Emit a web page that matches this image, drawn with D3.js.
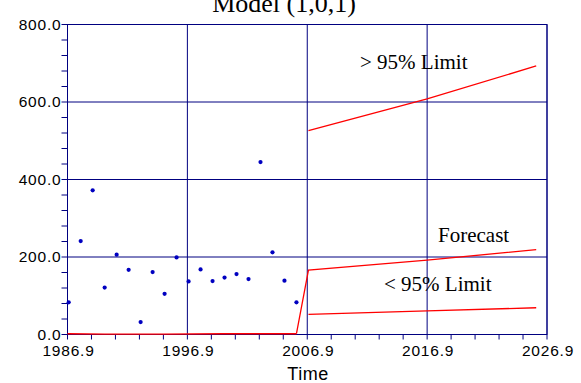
<!DOCTYPE html>
<html>
<head>
<meta charset="utf-8">
<script src="https://cdn.jsdelivr.net/npm/d3@7"></script>
<style>
  body { margin: 0; background: #fff; }
  svg { display: block; }
</style>
</head>
<body>
<svg id="chart" width="581" height="383"></svg>
<script>
// Observed series (one point per year)
let obsYears = [1987, 1988, 1989, 1990, 1991, 1992, 1993, 1994, 1995, 1996,
                1997, 1998, 1999, 2000, 2001, 2002, 2003, 2004, 2005, 2006];
let obsValues = [83, 241, 372, 121, 206, 167, 32, 161, 105, 199,
                 137, 168, 138, 147, 156, 143, 445, 212, 139, 83];

// Fitted values over the sample, then the forecast
let fitYears = [1986.9, 1987, 1990, 1995, 2000, 2006];
let fitValues = [2, 2, 1, 1, 2, 2];
let forecastYears = [2006, 2007, 2016.9, 2026];
let forecastValues = [2, 166, 192, 219];

// Confidence limits
let upperYears = [2007, 2016.9, 2026];
let upperValues = [526, 608, 693];
let lowerYears = [2007, 2016.9, 2026];
let lowerValues = [52, 61, 69];

let xMajorTicks = [1986.9, 1996.9, 2006.9, 2016.9, 2026.9];
let yMajorTicks = [0, 200, 400, 600, 800];

let svg = d3.select("#chart");
let plot = { left: 67.5, right: 547, top: 24.5, bottom: 334.5 };
let navy = "#000080";

let x = d3.scaleLinear().domain([1986.9, 2026.9]).range([plot.left, plot.right]);
let y = d3.scaleLinear().domain([0, 800]).range([plot.bottom, plot.top]);

// Minor ticks
let xMinorTicks = d3.range(0, 21).map(i => 1986.9 + 2 * i);
let yMinorTicks = d3.range(0, 21).map(i => 40 * i);

// Title (partly clipped at the top, as in the original)
svg.append("text")
    .attr("x", 284)
    .attr("y", 12)
    .attr("text-anchor", "middle")
    .style("font-family", "'Liberation Serif', 'Times New Roman', serif")
    .style("font-size", "26px")
    .text("Model (1,0,1)");

// Grid lines
let grid = svg.append("g");
grid.selectAll(".vgrid").data(xMajorTicks).enter().append("line")
    .attr("x1", d => x(d)).attr("x2", d => x(d))
    .attr("y1", plot.top).attr("y2", plot.bottom)
    .attr("stroke", navy).attr("stroke-width", 1);
grid.selectAll(".hgrid").data(yMajorTicks).enter().append("line")
    .attr("x1", plot.left).attr("x2", plot.right)
    .attr("y1", d => y(d)).attr("y2", d => y(d))
    .attr("stroke", navy).attr("stroke-width", 1);

// Frame
svg.append("rect")
    .attr("x", plot.left).attr("y", plot.top)
    .attr("width", plot.right - plot.left).attr("height", plot.bottom - plot.top)
    .attr("fill", "none").attr("stroke", navy).attr("stroke-width", 1);

// Left axis ticks
svg.append("g").selectAll("line").data(yMinorTicks).enter().append("line")
    .attr("x1", plot.left - 6).attr("x2", plot.left)
    .attr("y1", d => y(d)).attr("y2", d => y(d))
    .attr("stroke", navy);

// Bottom axis ticks
svg.append("g").selectAll("line").data(xMinorTicks).enter().append("line")
    .attr("x1", d => x(d)).attr("x2", d => x(d))
    .attr("y1", plot.bottom).attr("y2", plot.bottom + 5)
    .attr("stroke", navy);

let tickFont = "'Liberation Sans', Arial, sans-serif";

svg.append("g").selectAll("text").data(yMajorTicks).enter().append("text")
    .attr("x", plot.left - 6)
    .attr("y", d => y(d) + 5)
    .attr("text-anchor", "end")
    .style("font-family", tickFont)
    .style("font-size", "15.5px")
    .style("letter-spacing", "0.8px")
    .text(d => d3.format(".1f")(d));

svg.append("g").selectAll("text").data(xMajorTicks).enter().append("text")
    .attr("x", d => x(d) + 1)
    .attr("y", 356)
    .attr("text-anchor", "middle")
    .style("font-family", tickFont)
    .style("font-size", "15.5px")
    .style("letter-spacing", "0.8px")
    .text(d => d3.format(".1f")(d));

svg.append("text")
    .attr("x", 308)
    .attr("y", 380)
    .attr("text-anchor", "middle")
    .style("font-family", tickFont)
    .style("font-size", "18px")
    .style("letter-spacing", "0.5px")
    .text("Time");

// Red lines
let line = d3.line().x(d => x(d[0])).y(d => y(d[1]));
function drawRed(years, values) {
    svg.append("path")
        .attr("d", line(d3.zip(years, values)))
        .attr("fill", "none")
        .attr("stroke", "#ff0000")
        .attr("stroke-width", 1.3);
}
drawRed(fitYears, fitValues);
drawRed(forecastYears, forecastValues);
drawRed(upperYears, upperValues);
drawRed(lowerYears, lowerValues);

// Observed points
svg.append("g").selectAll("circle").data(d3.zip(obsYears, obsValues)).enter().append("circle")
    .attr("cx", d => x(d[0]))
    .attr("cy", d => y(d[1]))
    .attr("r", 2.1)
    .attr("fill", "#0000c0");

// Annotations
let labelFont = "'Liberation Serif', 'Times New Roman', serif";
let labels = [
    { text: "> 95% Limit", x: 360, y: 69 },
    { text: "Forecast", x: 438, y: 242 },
    { text: "< 95% Limit", x: 384, y: 291 }
];
labels.forEach(l => {
    svg.append("text")
        .attr("x", l.x)
        .attr("y", l.y)
        .style("font-family", labelFont)
        .style("font-size", "21px")
        .text(l.text);
});
</script>
</body>
</html>
